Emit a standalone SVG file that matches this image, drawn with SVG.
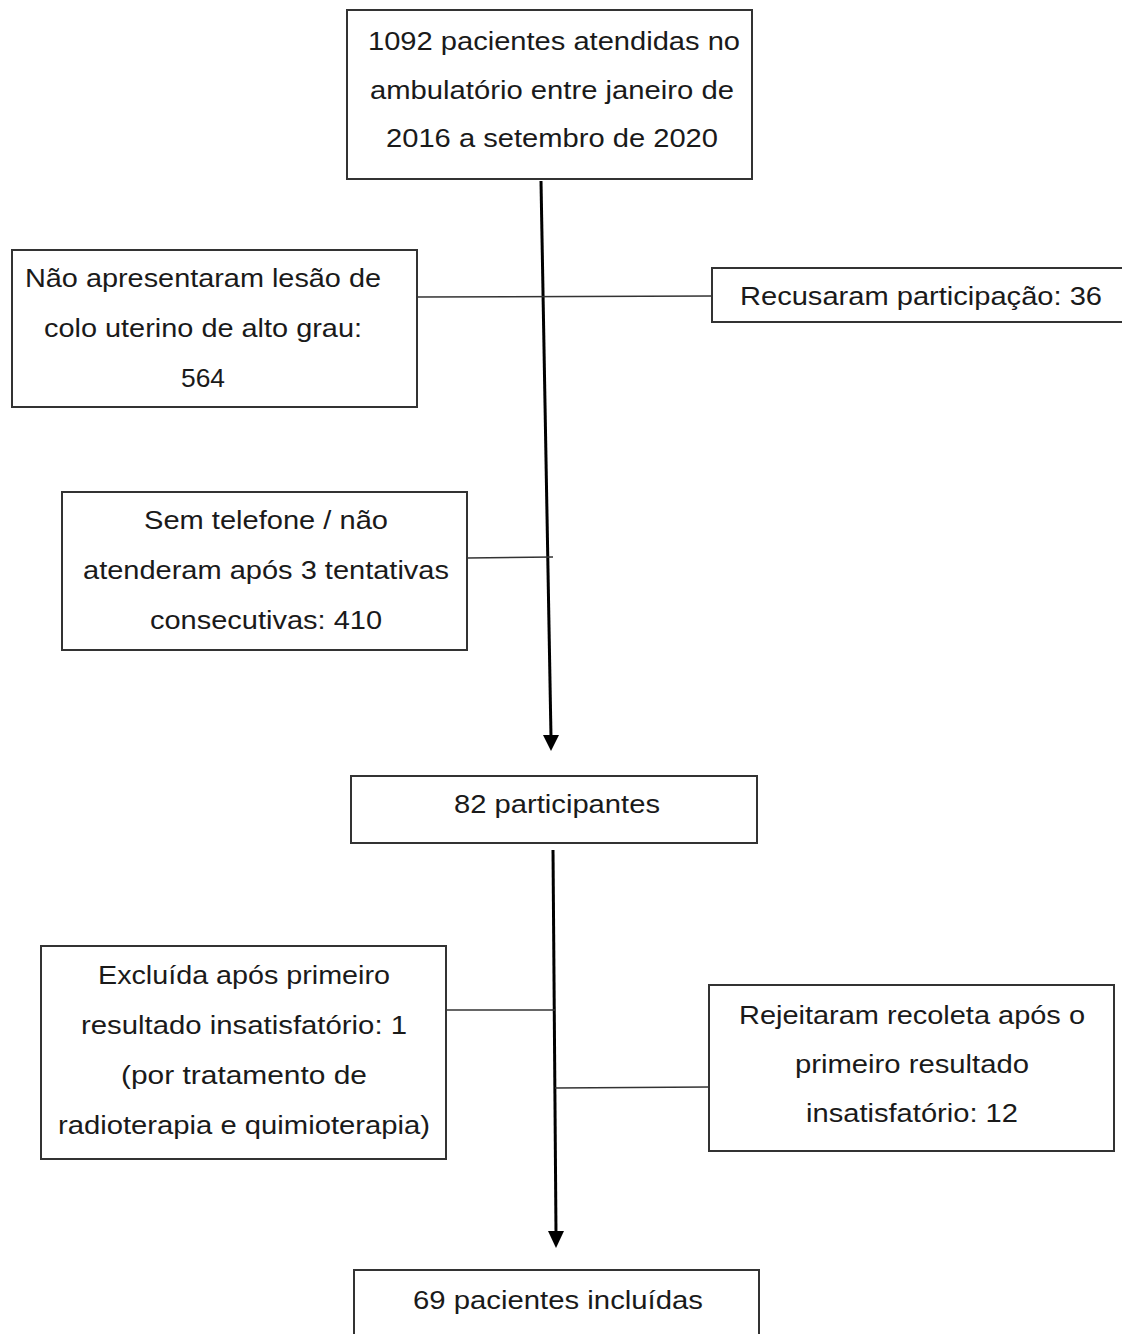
<svg xmlns="http://www.w3.org/2000/svg" width="1122" height="1334" viewBox="0 0 1122 1334">
<defs>
<style>
.box{fill:#fff;stroke:#333;stroke-width:2}
.t{font-family:"Liberation Sans",Arial,sans-serif;font-size:25px;fill:#1a1a1a;text-anchor:middle;dominant-baseline:central}
.n{font-family:"Liberation Sans",Arial,sans-serif;font-size:25px;fill:#1a1a1a;text-anchor:middle;dominant-baseline:central}
.main{stroke:#000;stroke-width:3;fill:none}
.conn{stroke:#333;stroke-width:1.6;fill:none}
</style>
</defs>
<rect width="1122" height="1334" fill="#fff"/>
<g id="connectors">
<line class="main" x1="541" y1="181" x2="551" y2="737"/>
<polygon points="543,735 559,735 551,751" fill="#000"/>
<line class="conn" x1="417" y1="297" x2="712" y2="296"/>
<line class="conn" x1="467" y1="558" x2="553" y2="557"/>
<line class="main" x1="553" y1="850" x2="556" y2="1233"/>
<polygon points="548,1231 564,1231 556,1248" fill="#000"/>
<line class="conn" x1="446" y1="1010" x2="555" y2="1010"/>
<line class="conn" x1="555" y1="1088" x2="709" y2="1087"/>
</g>
<g id="n1">
<rect class="box" x="347" y="10" width="405" height="169"/>
<text class="t" x="554" y="41" textLength="372" lengthAdjust="spacingAndGlyphs">1092 pacientes atendidas no</text>
<text class="t" x="552" y="90" textLength="364" lengthAdjust="spacingAndGlyphs">ambulatório entre janeiro de</text>
<text class="t" x="552" y="138" textLength="332" lengthAdjust="spacingAndGlyphs">2016 a setembro de 2020</text>
</g>
<g id="n2">
<rect class="box" x="12" y="250" width="405" height="157"/>
<text class="n" x="203" y="278" textLength="356" lengthAdjust="spacingAndGlyphs">Não apresentaram lesão de</text>
<text class="n" x="203" y="328" textLength="318" lengthAdjust="spacingAndGlyphs">colo uterino de alto grau:</text>
<text class="n" x="203" y="378" textLength="44" lengthAdjust="spacingAndGlyphs">564</text>
</g>
<g id="n3">
<rect class="box" x="712" y="268" width="412" height="54"/>
<text class="n" x="921" y="296" textLength="362" lengthAdjust="spacingAndGlyphs">Recusaram participação: 36</text>
</g>
<g id="n4">
<rect class="box" x="62" y="492" width="405" height="158"/>
<text class="t" x="266" y="520" textLength="244" lengthAdjust="spacingAndGlyphs">Sem telefone / não</text>
<text class="t" x="266" y="570" textLength="366" lengthAdjust="spacingAndGlyphs">atenderam após 3 tentativas</text>
<text class="t" x="266" y="620" textLength="232" lengthAdjust="spacingAndGlyphs">consecutivas: 410</text>
</g>
<g id="n5">
<rect class="box" x="351" y="776" width="406" height="67"/>
<text class="t" x="557" y="804" textLength="206" lengthAdjust="spacingAndGlyphs">82 participantes</text>
</g>
<g id="n6">
<rect class="box" x="41" y="946" width="405" height="213"/>
<text class="n" x="244" y="975" textLength="292" lengthAdjust="spacingAndGlyphs">Excluída após primeiro</text>
<text class="n" x="244" y="1025" textLength="326" lengthAdjust="spacingAndGlyphs">resultado insatisfatório: 1</text>
<text class="n" x="244" y="1075" textLength="246" lengthAdjust="spacingAndGlyphs">(por tratamento de</text>
<text class="n" x="244" y="1125" textLength="372" lengthAdjust="spacingAndGlyphs">radioterapia e quimioterapia)</text>
</g>
<g id="n7">
<rect class="box" x="709" y="985" width="405" height="166"/>
<text class="n" x="912" y="1015" textLength="346" lengthAdjust="spacingAndGlyphs">Rejeitaram recoleta após o</text>
<text class="n" x="912" y="1064" textLength="234" lengthAdjust="spacingAndGlyphs">primeiro resultado</text>
<text class="n" x="912" y="1113" textLength="212" lengthAdjust="spacingAndGlyphs">insatisfatório: 12</text>
</g>
<g id="n8">
<rect class="box" x="354" y="1270" width="405" height="80"/>
<text class="t" x="558" y="1300" textLength="290" lengthAdjust="spacingAndGlyphs">69 pacientes incluídas</text>
</g>
</svg>
